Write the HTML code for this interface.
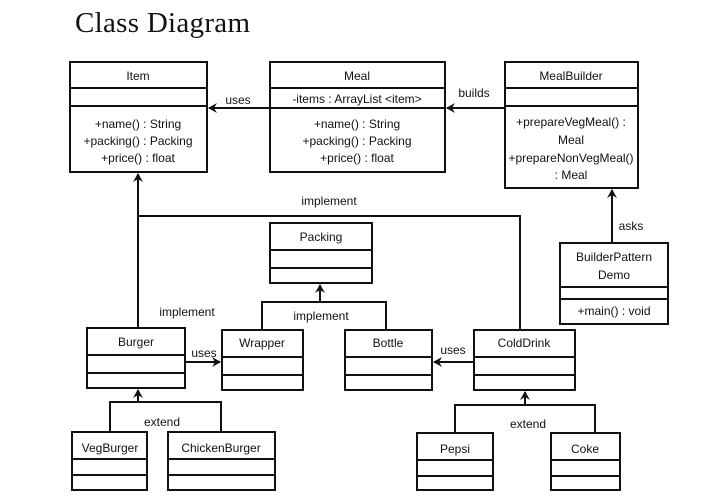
<!DOCTYPE html>
<html><head><meta charset="utf-8"><style>
html,body{margin:0;padding:0;background:#fff;width:709px;height:498px;overflow:hidden}
svg text{font-family:"Liberation Sans",sans-serif;font-size:12px;fill:#111}
</style></head><body>
<svg width="709" height="498" xmlns="http://www.w3.org/2000/svg">
<defs><marker id="a" markerWidth="10" markerHeight="10" refX="8" refY="5" orient="auto" markerUnits="userSpaceOnUse"><path d="M0,0 L9,5 L0,10 L3,5 Z" fill="#111"/></marker></defs>
<text x="75" y="32" style="font-family:'Liberation Serif',serif;font-size:29px" textLength="175">Class Diagram</text>
<g fill="none" stroke="#111" stroke-width="2">
<rect x="70" y="62" width="137" height="110"/><line x1="70" y1="88" x2="207" y2="88"/><line x1="70" y1="106" x2="207" y2="106"/>
<rect x="270" y="62" width="175" height="110"/><line x1="270" y1="88" x2="445" y2="88"/><line x1="270" y1="108" x2="445" y2="108"/>
<rect x="505" y="62" width="133" height="126"/><line x1="505" y1="88" x2="638" y2="88"/><line x1="505" y1="106" x2="638" y2="106"/>
<rect x="560" y="243" width="108" height="81"/><line x1="560" y1="287" x2="668" y2="287"/><line x1="560" y1="299" x2="668" y2="299"/>
<rect x="270" y="223" width="102" height="60"/><line x1="270" y1="250" x2="372" y2="250"/><line x1="270" y1="268" x2="372" y2="268"/>
<rect x="87" y="328" width="98" height="60"/><line x1="87" y1="355" x2="185" y2="355"/><line x1="87" y1="373" x2="185" y2="373"/>
<rect x="222" y="330" width="81" height="60"/><line x1="222" y1="357" x2="303" y2="357"/><line x1="222" y1="375" x2="303" y2="375"/>
<rect x="345" y="330" width="87" height="60"/><line x1="345" y1="357" x2="432" y2="357"/><line x1="345" y1="375" x2="432" y2="375"/>
<rect x="474" y="330" width="101" height="60"/><line x1="474" y1="357" x2="575" y2="357"/><line x1="474" y1="375" x2="575" y2="375"/>
<rect x="72" y="432" width="75" height="58"/><line x1="72" y1="459" x2="147" y2="459"/><line x1="72" y1="475" x2="147" y2="475"/>
<rect x="168" y="432" width="107" height="58"/><line x1="168" y1="459" x2="275" y2="459"/><line x1="168" y1="475" x2="275" y2="475"/>
<rect x="417" y="433" width="76" height="57"/><line x1="417" y1="460" x2="493" y2="460"/><line x1="417" y1="476" x2="493" y2="476"/>
<rect x="551" y="433" width="69" height="57"/><line x1="551" y1="460" x2="620" y2="460"/><line x1="551" y1="476" x2="620" y2="476"/>
<line x1="270" y1="108" x2="209" y2="108" marker-end="url(#a)"/>
<line x1="505" y1="108" x2="447" y2="108" marker-end="url(#a)"/>
<line x1="612" y1="243" x2="612" y2="190" marker-end="url(#a)"/>
<line x1="138" y1="328" x2="138" y2="174" marker-end="url(#a)"/>
<polyline points="138,216 520,216 520,330"/>
<line x1="320" y1="302" x2="320" y2="285" marker-end="url(#a)"/>
<polyline points="262,330 262,302 386,302 386,330"/>
<line x1="185" y1="362" x2="220" y2="362" marker-end="url(#a)"/>
<line x1="474" y1="362" x2="434" y2="362" marker-end="url(#a)"/>
<line x1="138" y1="402" x2="138" y2="390" marker-end="url(#a)"/>
<polyline points="110,432 110,402 221,402 221,432"/>
<line x1="525" y1="405" x2="525" y2="392" marker-end="url(#a)"/>
<polyline points="455,433 455,405 595,405 595,433"/>
</g>
<g text-anchor="middle">
<text x="138" y="80">Item</text>
<text x="138" y="128">+name() : String</text><text x="138" y="145">+packing() : Packing</text><text x="138" y="162">+price() : float</text>
<text x="357" y="80">Meal</text>
<text x="357" y="103">-items : ArrayList &lt;item&gt;</text>
<text x="357" y="128">+name() : String</text><text x="357" y="145">+packing() : Packing</text><text x="357" y="162">+price() : float</text>
<text x="571" y="80">MealBuilder</text>
<text x="571" y="126">+prepareVegMeal() :</text><text x="571" y="144">Meal</text><text x="571" y="162">+prepareNonVegMeal()</text><text x="571" y="179">: Meal</text>
<text x="614" y="261">BuilderPattern</text><text x="614" y="279">Demo</text><text x="614" y="315">+main() : void</text>
<text x="321" y="241">Packing</text>
<text x="136" y="346">Burger</text><text x="262" y="347">Wrapper</text><text x="388" y="347">Bottle</text><text x="524" y="347">ColdDrink</text>
<text x="110" y="452">VegBurger</text><text x="221" y="452">ChickenBurger</text><text x="455" y="453">Pepsi</text><text x="585" y="453">Coke</text>
<text x="238" y="104">uses</text><text x="474" y="97">builds</text><text x="631" y="230">asks</text>
<text x="329" y="205">implement</text><text x="187" y="316">implement</text><text x="321" y="320">implement</text>
<text x="204" y="357">uses</text><text x="453" y="354">uses</text>
<text x="162" y="426">extend</text><text x="528" y="428">extend</text>
</g>
</svg>
</body></html>
